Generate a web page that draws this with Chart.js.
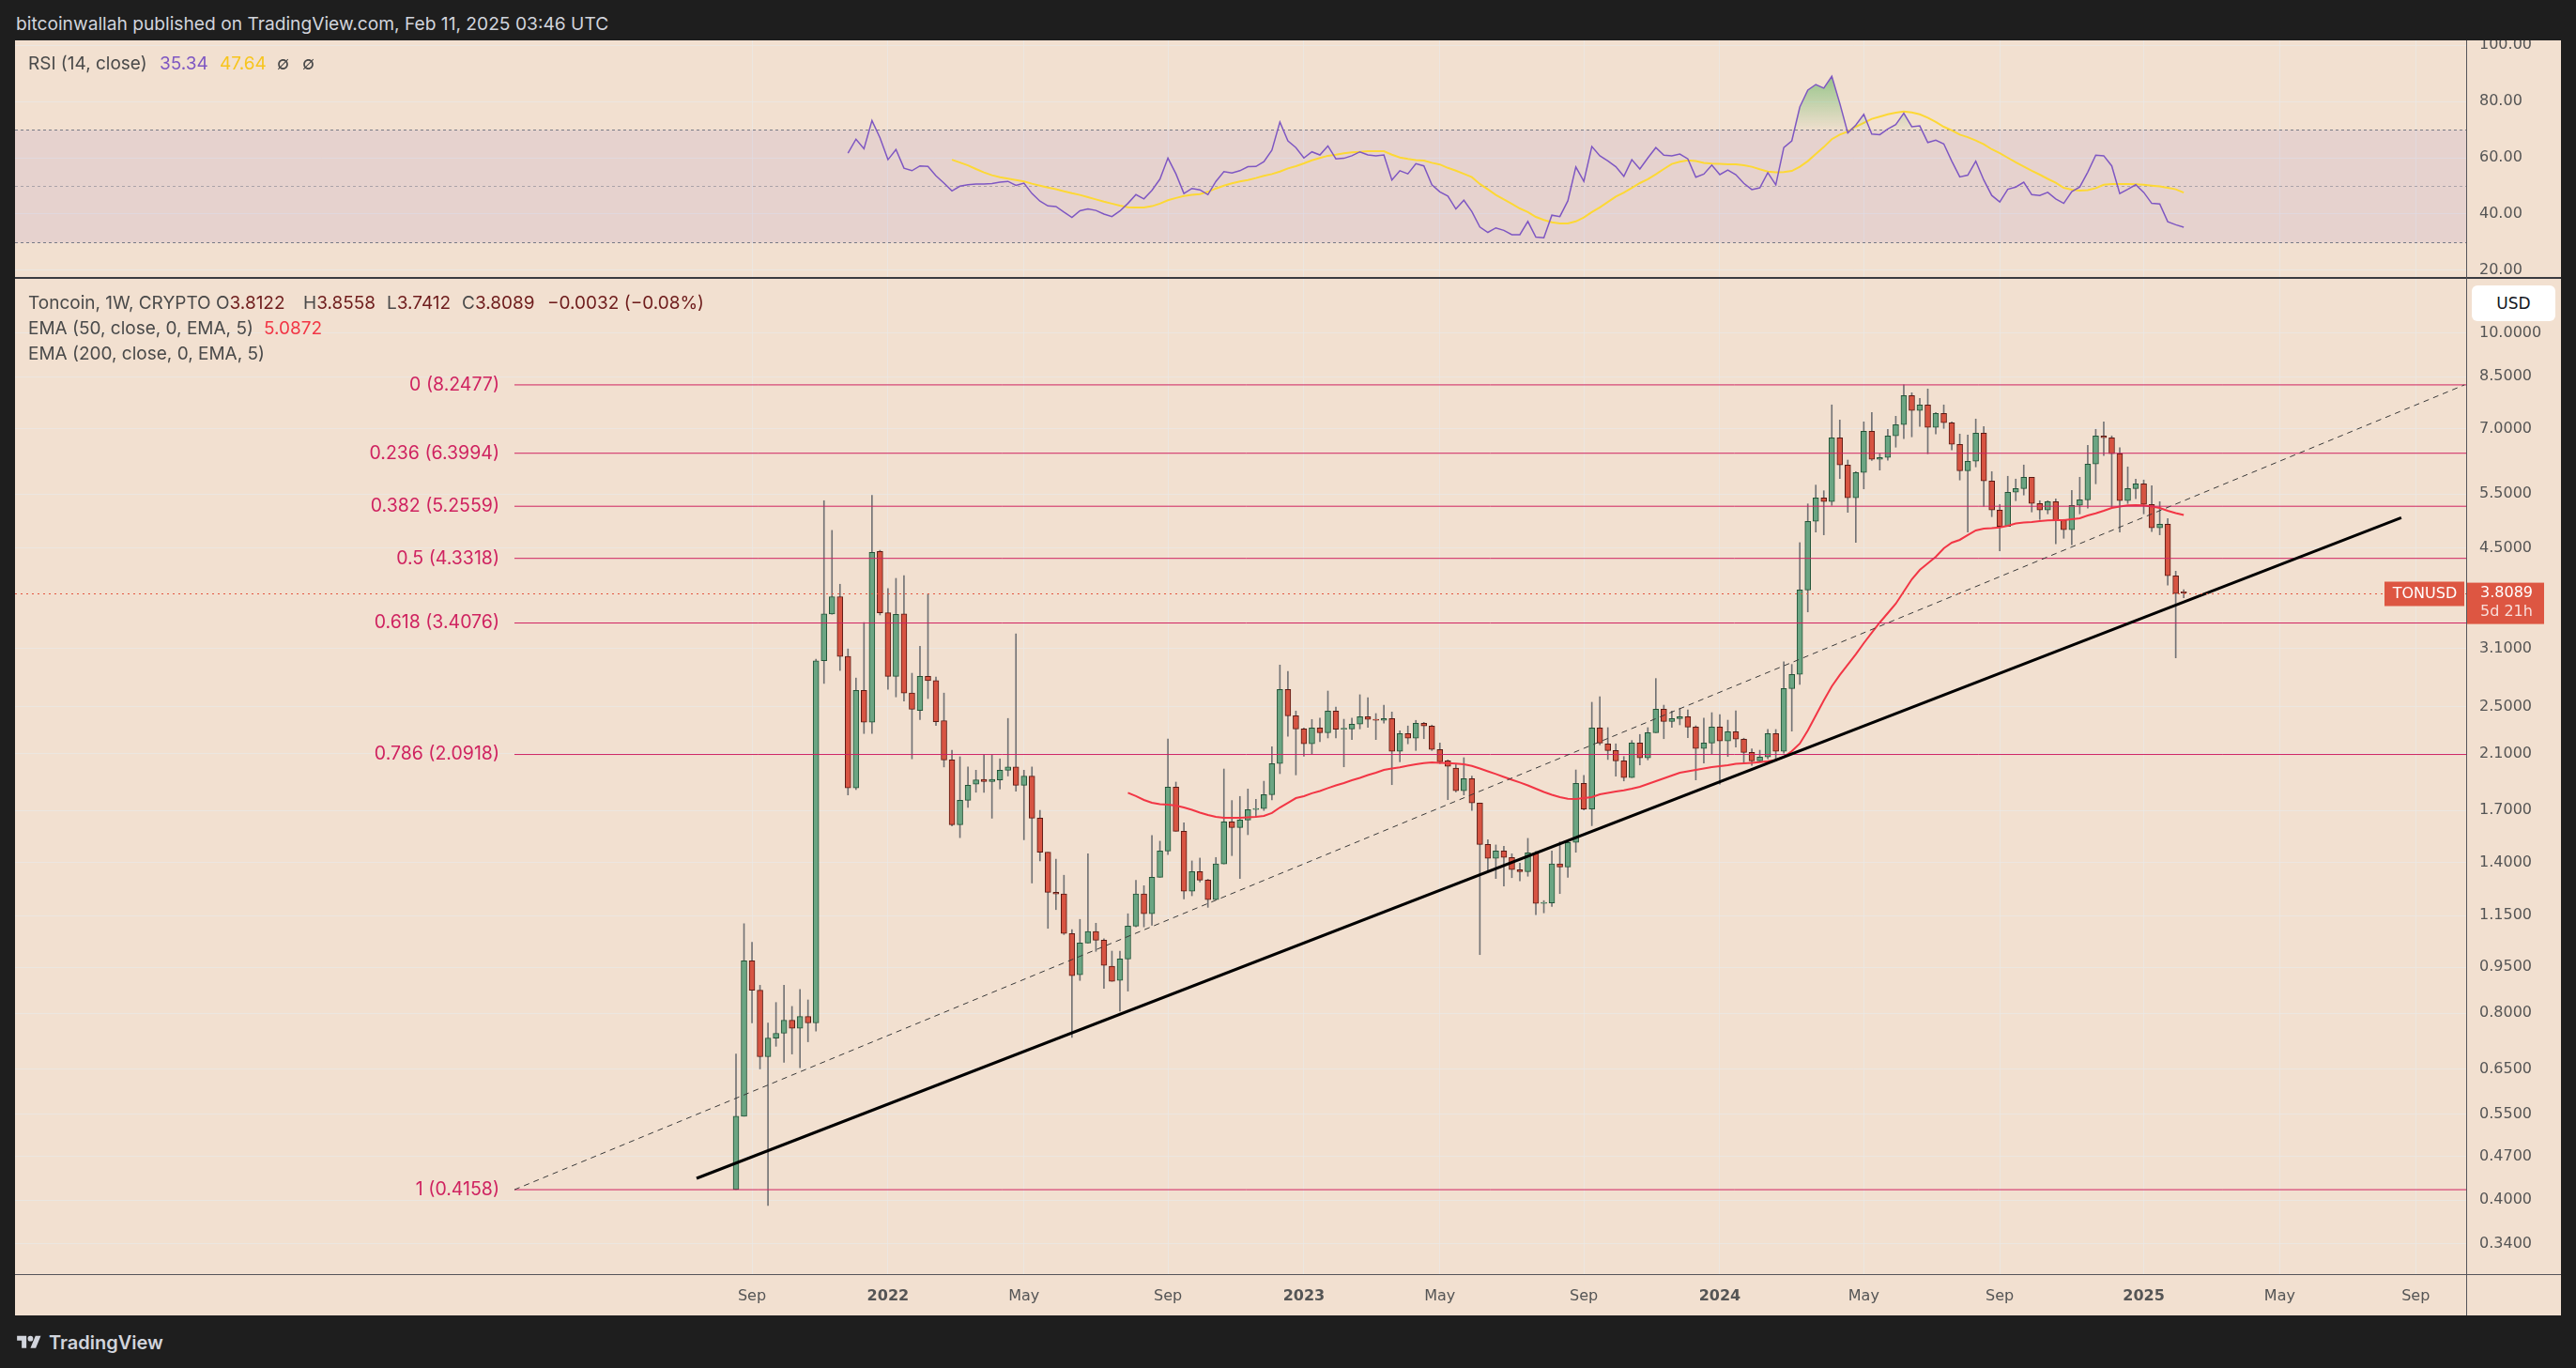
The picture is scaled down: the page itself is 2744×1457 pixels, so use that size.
<!DOCTYPE html>
<html>
<head>
<meta charset="utf-8">
<title>Toncoin 1W</title>
<script src="https://cdn.jsdelivr.net/npm/chart.js@4.4.1/dist/chart.umd.min.js"></script>
<style>
  html, body { margin: 0; padding: 0; }
  body { width: 2744px; height: 1457px; background: #1e1e1e; position: relative; overflow: hidden; font-family: Inter, "Noto Sans", sans-serif; }
  .abs { position: absolute; }
  #frame { left: 16px; top: 43px; width: 2712px; height: 1358px; background: #f2e0d0; }
  #rsiBox { left: 16px; top: 43px; width: 2712px; height: 253px; }
  #mainBox { left: 16px; top: 297px; width: 2712px; height: 1104px; }
  .txt { position: absolute; white-space: nowrap; font-size: 19px; line-height: 24px; color: #4a4a4a; }
  .ln { position: absolute; }
</style>
</head>
<body>
<div class="txt" style="left:17px;top:13px;color:#d1d4dc;font-size:19.2px">bitcoinwallah published on TradingView.com, Feb 11, 2025 03:46 UTC</div>
<div id="frame" class="abs"></div>
<div id="rsiBox" class="abs"><canvas id="rsi" width="2712" height="253"></canvas></div>
<div id="mainBox" class="abs"><canvas id="main" width="2712" height="1104"></canvas></div>

<!-- pane separators -->
<div class="ln" style="left:16px;top:295px;width:2712px;height:2px;background:#3b3b40"></div>
<div class="ln" style="left:2627px;top:43px;width:1px;height:1358px;background:#55555a"></div>
<div class="ln" style="left:16px;top:1357px;width:2712px;height:1px;background:#55555a"></div>

<!-- legends -->
<div class="txt" style="left:30px;top:56px">RSI (14, close)</div>
<div class="txt" style="left:170px;top:56px;color:#7e57c2">35.34</div>
<div class="txt" style="left:234px;top:56px;color:#f7c51e">47.64</div>
<div class="txt" style="left:295px;top:56px">∅</div>
<div class="txt" style="left:322px;top:56px">∅</div>

<div class="txt" style="left:30px;top:311px">Toncoin, 1W, CRYPTO</div>
<div class="txt" style="left:230px;top:311px">O<span style="color:#6e1c1c">3.8122</span></div>
<div class="txt" style="left:323px;top:311px">H<span style="color:#6e1c1c">3.8558</span></div>
<div class="txt" style="left:412px;top:311px">L<span style="color:#6e1c1c">3.7412</span></div>
<div class="txt" style="left:492px;top:311px">C<span style="color:#6e1c1c">3.8089</span></div>
<div class="txt" style="left:583px;top:311px;color:#6e1c1c">−0.0032 (−0.08%)</div>
<div class="txt" style="left:30px;top:338px">EMA (50, close, 0, EMA, 5)</div>
<div class="txt" style="left:281px;top:338px;color:#f23645">5.0872</div>
<div class="txt" style="left:30px;top:365px">EMA (200, close, 0, EMA, 5)</div>

<div class="abs" style="left:2633px;top:304px;width:89px;height:38px;background:#fff;border-radius:6px;font:17px 'DejaVu Sans';line-height:38px;text-align:center;color:#131722">USD</div>

<div class="abs" style="left:17px;top:1420px">
  <svg width="28" height="20" viewBox="0 0 36 28"><path d="M14 22H7V11H0V4h14v18zM28 22h-8l7.5-18h8L28 22z" fill="#d1d4dc"/><circle cx="20" cy="8" r="4" fill="#d1d4dc"/></svg>
</div>
<div class="txt" style="left:52px;top:1418px;color:#d1d4dc;font-size:20px;font-weight:600">TradingView</div>

<script>
/* =============================== */
/* Data (weekly candles, index 0 = week of Aug 23 2021) */
/* =============================== */
const opens = [
  0.416,0.546,0.972,0.872,0.681,0.730,0.743,0.780,0.757,0.791,
  0.772,2.962,3.525,3.758,3.010,1.847,2.653,2.358,4.445,3.539,
  2.795,3.525,2.627,2.464,2.795,2.751,2.372,2.050,1.612,1.764,
  1.873,1.907,1.892,1.903,1.973,1.997,1.866,1.930,1.651,1.455,
  1.254,1.246,1.076,0.923,1.039,1.084,1.050,0.953,0.904,0.979,
  1.106,1.246,1.158,1.326,1.462,1.853,1.573,1.259,1.354,1.312,
  1.220,1.393,1.629,1.595,1.640,1.705,1.711,1.802,2.022,2.663,
  2.415,2.300,2.176,2.308,2.268,2.458,2.297,2.300,2.341,2.407,
  2.382,2.374,2.390,2.116,2.261,2.222,2.349,2.325,2.131,2.043,
  1.988,1.828,1.912,1.747,1.498,1.422,1.462,1.427,1.364,1.354,
  1.452,1.203,1.205,1.393,1.378,1.509,1.879,1.708,2.308,2.176,
  2.123,2.043,1.919,2.183,2.065,2.268,2.475,2.365,2.390,2.407,
  2.316,2.138,2.183,2.316,2.199,2.276,2.214,2.108,2.043,2.072,
  2.261,2.116,2.672,2.816,3.853,4.970,5.422,5.347,6.777,6.126,
  5.422,5.957,6.944,6.255,6.299,6.825,7.116,7.928,7.498,7.657,
  7.043,7.420,7.166,6.614,5.998,6.212,6.896,5.774,5.182,4.877,
  5.537,5.614,5.854,5.310,5.182,5.347,4.987,4.816,5.273,5.384,
  6.147,6.825,6.777,6.387,5.366,5.614,5.713,5.292,4.850,4.918,
  4.060,3.8122
];
const highs = [
  0.688,1.116,1.042,0.888,0.772,0.833,0.888,0.821,0.874,0.841,
  2.979,5.366,4.806,3.935,3.095,2.778,3.414,5.474,4.464,3.872,
  4.022,4.063,2.828,3.126,3.796,2.789,2.627,2.125,2.074,1.997,
  1.973,2.086,2.086,2.058,2.391,3.273,1.973,1.997,1.700,1.455,
  1.418,1.336,1.092,1.134,1.447,1.118,1.055,1.008,1.008,1.158,
  1.311,1.285,1.548,1.516,2.216,1.888,1.623,1.409,1.424,1.316,
  1.427,1.982,1.763,1.790,1.840,1.771,1.894,2.153,2.915,2.848,
  2.458,2.308,2.382,2.393,2.647,2.495,2.384,2.393,2.611,2.583,
  2.435,2.512,2.449,2.284,2.325,2.374,2.357,2.333,2.183,2.050,
  2.022,2.067,1.930,1.747,1.525,1.495,1.488,1.447,1.397,1.532,
  1.460,1.216,1.462,1.512,1.521,1.975,1.935,2.539,2.592,2.311,
  2.176,2.076,2.203,2.253,2.311,2.773,2.512,2.458,2.484,2.469,
  2.327,2.393,2.443,2.426,2.376,2.460,2.222,2.135,2.125,2.295,
  2.295,2.952,2.922,4.592,5.303,5.686,5.568,7.657,7.240,6.240,
  5.978,7.191,7.445,6.387,6.993,7.342,8.248,8.011,7.846,8.124,
  7.445,7.657,7.191,6.872,6.848,7.266,7.067,5.978,5.292,5.875,
  5.814,6.126,5.854,5.366,5.366,5.403,5.005,5.576,5.854,6.591,
  6.993,7.191,6.825,6.534,6.083,5.814,5.794,5.674,5.347,5.022,
  4.131,3.8558
];
const lows = [
  0.416,0.546,0.772,0.651,0.392,0.708,0.667,0.688,0.654,0.720,
  0.749,2.723,3.520,2.857,1.800,1.836,2.261,2.261,3.511,2.664,
  2.590,2.550,2.058,2.381,2.574,2.329,1.997,1.605,1.536,1.719,
  1.818,1.818,1.651,1.840,1.931,1.825,1.524,1.298,1.409,1.097,
  1.176,1.072,0.732,0.904,1.039,1.007,0.878,0.901,0.807,0.869,
  1.103,1.103,1.110,1.326,1.443,1.573,1.224,1.238,1.303,1.186,
  1.220,1.393,1.437,1.320,1.553,1.659,1.699,1.767,1.948,2.237,
  1.939,2.079,2.094,2.193,2.224,2.224,1.998,2.211,2.300,2.313,
  2.211,2.349,1.870,2.036,2.176,2.123,2.218,2.123,2.022,1.769,
  1.820,1.800,1.699,0.995,1.359,1.320,1.284,1.324,1.308,1.331,
  1.154,1.162,1.190,1.248,1.326,1.455,1.702,1.606,2.168,2.053,
  1.930,1.896,1.919,2.012,2.050,2.268,2.218,2.313,2.335,2.226,
  1.903,2.026,2.098,1.873,2.076,2.150,2.029,2.008,2.036,2.058,
  2.043,2.101,2.281,2.713,3.551,4.776,4.727,5.273,5.826,5.139,
  4.597,5.607,6.230,6.011,6.233,6.545,6.754,6.801,7.067,6.387,
  6.872,7.018,6.477,5.794,4.776,6.083,5.255,5.057,4.454,4.877,
  5.366,5.480,5.146,5.005,5.110,4.571,4.667,4.555,5.110,5.218,
  5.713,6.343,5.237,4.776,5.310,5.403,5.110,4.783,4.727,3.921,
  2.994,3.7412
];
const closes = [
  0.546,0.972,0.872,0.681,0.730,0.743,0.780,0.757,0.791,0.772,
  2.962,3.525,3.758,3.010,1.847,2.653,2.358,4.428,3.539,2.795,
  3.518,2.627,2.473,2.795,2.751,2.362,2.050,1.612,1.764,1.866,
  1.903,1.892,1.907,1.973,1.997,1.866,1.930,1.651,1.455,1.254,
  1.246,1.076,0.920,1.039,1.084,1.050,0.956,0.901,0.979,1.106,
  1.246,1.158,1.326,1.462,1.853,1.573,1.259,1.354,1.312,1.220,
  1.393,1.629,1.595,1.640,1.705,1.711,1.802,2.022,2.663,2.415,
  2.300,2.176,2.308,2.268,2.458,2.297,2.300,2.341,2.407,2.382,
  2.374,2.390,2.116,2.261,2.222,2.349,2.325,2.131,2.036,2.001,
  1.828,1.912,1.747,1.498,1.422,1.462,1.427,1.364,1.354,1.452,
  1.203,1.205,1.393,1.378,1.509,1.879,1.708,2.308,2.183,2.123,
  2.043,1.919,2.183,2.065,2.268,2.475,2.365,2.390,2.407,2.316,
  2.138,2.183,2.316,2.199,2.276,2.214,2.108,2.043,2.072,2.261,
  2.116,2.672,2.816,3.853,4.970,5.422,5.347,6.777,6.126,5.422,
  5.957,6.944,6.255,6.299,6.825,7.116,7.928,7.498,7.657,7.043,
  7.420,7.166,6.614,5.998,6.212,6.896,5.774,5.182,4.877,5.537,
  5.614,5.854,5.310,5.182,5.347,4.987,4.816,5.273,5.384,6.147,
  6.825,6.777,6.387,5.366,5.614,5.713,5.292,4.850,4.918,4.060,
  3.800,3.8089
];

// EMA 50 as drawn, starting at week 49
const emaStart = 49;
const emaValues = [
  1.814,1.792,1.767,1.748,1.739,1.736,1.730,1.718,1.703,1.686,
  1.671,1.659,1.654,1.654,1.654,1.657,1.659,1.665,1.683,1.718,
  1.748,1.779,1.792,1.811,1.826,1.846,1.865,1.881,1.901,1.918,
  1.938,1.955,1.975,1.986,1.994,2.007,2.017,2.026,2.031,2.028,
  2.026,2.023,2.017,2.005,1.986,1.965,1.945,1.924,1.904,1.885,
  1.865,1.842,1.820,1.801,1.785,1.775,1.773,1.779,1.785,1.804,
  1.814,1.823,1.831,1.842,1.855,1.875,1.894,1.914,1.934,1.955,
  1.965,1.975,1.986,1.996,2.003,2.010,2.021,2.024,2.028,2.033,
  2.040,2.049,2.074,2.118,2.178,2.287,2.418,2.557,2.694,2.809,
  2.919,3.033,3.162,3.286,3.414,3.535,3.661,3.830,4.008,4.150,
  4.253,4.358,4.497,4.592,4.640,4.722,4.805,4.838,4.846,4.860,
  4.889,4.932,4.949,4.958,4.975,4.987,4.993,4.993,5.010,5.027,
  5.080,5.121,5.169,5.224,5.251,5.273,5.279,5.273,5.251,5.224,
  5.169,5.125,5.0872
];

// RSI (14) from week 14, its MA from week 27
const rsiStart = 14;
const rsiValues = [
  61.6,66.6,63.2,73.2,67.1,59.3,62.9,56.3,55.4,57.1,
  56.9,53.6,51.0,48.2,49.9,50.4,50.7,50.7,50.8,51.3,
  51.6,50.2,51.0,47.3,44.6,42.9,42.7,40.7,38.8,41.2,
  41.8,41.3,40.0,39.1,41.1,43.8,46.9,45.4,48.4,52.4,
  59.9,54.3,47.3,49.1,48.6,46.9,51.6,55.1,54.6,55.4,
  56.8,56.9,58.6,62.7,72.7,66.0,63.6,59.9,62.1,61.0,
  64.2,59.6,59.8,60.7,62.1,61.0,60.7,61.0,52.1,55.4,
  54.3,57.9,57.1,50.4,47.9,46.4,41.8,44.9,40.9,35.4,
  33.5,35.1,34.2,32.7,32.7,37.4,31.8,31.6,39.6,39.1,
  44.7,56.7,51.6,64.0,60.7,58.9,56.8,53.4,59.3,56.0,
  59.9,63.6,60.9,60.7,61.3,59.6,53.1,54.2,57.4,54.0,
  55.6,54.0,50.9,48.7,49.3,54.7,50.4,63.6,66.0,78.0,
  84.0,86.0,84.7,88.9,79.3,68.8,71.6,75.4,68.4,68.2,
  70.2,71.8,75.8,71.0,71.3,65.4,66.2,64.9,58.8,53.2,
  53.8,58.8,52.1,46.6,44.3,48.8,49.6,51.3,46.9,46.6,
  47.7,45.4,43.8,48.0,49.6,54.9,60.9,60.7,57.1,47.3,
  48.8,50.4,47.7,43.8,43.6,37.3,36.2,35.34
];
const rsiMaStart = 27;
const rsiMaValues = [
  59.3,58.3,57.3,56.0,54.8,53.8,53.1,52.6,52.1,51.6,
  50.8,50.1,49.4,48.8,48.1,47.4,46.8,46.0,45.2,44.4,
  43.7,43.0,42.4,42.3,42.3,42.8,43.7,44.9,45.7,46.4,
  46.8,47.1,47.9,49.1,50.1,50.9,51.6,52.1,52.8,53.6,
  54.2,55.1,56.2,57.0,58.0,59.1,59.9,60.7,61.1,61.6,
  61.9,62.1,62.3,62.3,62.3,61.1,60.1,59.6,59.2,59.0,
  58.2,57.6,56.4,55.4,54.3,53.1,50.7,48.8,46.8,45.2,
  43.6,42.0,40.7,39.0,37.9,37.1,36.7,36.7,37.4,38.8,
  40.7,42.4,44.3,46.2,47.6,49.3,51.0,52.4,54.1,56.0,
  57.8,58.6,59.1,58.8,58.2,57.9,57.8,57.7,57.7,57.3,
  56.8,55.9,55.1,54.8,54.9,55.3,56.8,58.8,61.3,63.8,
  66.6,68.2,69.3,71.0,72.4,73.8,74.6,75.4,76.0,76.4,
  76.1,75.4,74.2,72.7,71.0,69.7,68.2,67.3,66.1,64.8,
  63.0,61.6,60.0,58.4,56.9,55.4,54.0,52.5,51.1,49.3,
  48.7,48.3,48.5,49.2,50.4,50.7,50.7,50.7,50.6,50.4,
  50.1,49.8,49.3,48.8,47.64
];
const rsiUpper = 70, rsiMiddle = 50, rsiLower = 30;

// Fibonacci retracement and trend lines (week index, price)
const fibRatios = [0, 0.236, 0.382, 0.5, 0.618, 0.786, 1];
const fibPrices = [8.2477, 6.3994, 5.2559, 4.3318, 3.4076, 2.0918, 0.4158];
const fibFrom = { x: -27.7, y: 0.4158 };
const fibTo = { x: 216.1, y: 8.2477 };
const trendFrom = { x: -4.93, y: 0.4337 };
const trendTo = { x: 208.2, y: 5.036 };

// axis ticks
const timeTickIdx = [2, 19, 36, 54, 71, 88, 106, 123, 141, 158, 176, 193, 210];
const timeTickLbl = ['Sep', '2022', 'May', 'Sep', '2023', 'May', 'Sep', '2024', 'May', 'Sep', '2025', 'May', 'Sep'];
const priceTicks = [0.34, 0.40, 0.47, 0.55, 0.65, 0.80, 0.95, 1.15, 1.40, 1.70, 2.10, 2.50, 3.10, 4.50, 5.50, 7.00, 8.50, 10.00];
const rsiTicks = [20, 40, 60, 80, 100];

/* =============================== */
/* View window */
/* =============================== */
const viewFrom = -90.14, viewTo = 216.31;
const priceFloor = 0.30392, priceCeil = 12.226;
const rsiFloor = 17.333, rsiCeil = 101.667;

const gridColor = 'rgba(234,232,230,0.75)';
const axisText = '#555555';
const fibColor = '#cf2360';
const upBody = '#6ba583', downBody = '#d75442';
const upLine = '#225437', downLine = '#5b1a13';
const lastClose = closes[closes.length - 1];

Chart.defaults.font.family = 'DejaVu Sans';
Chart.defaults.animation = false;

function timeAxis(showLabels) {
  return {
    type: 'linear', min: viewFrom, max: viewTo, offset: false, bounds: 'data',
    afterBuildTicks: s => { s.ticks = timeTickIdx.map(v => ({ value: v })); s.min = viewFrom; s.max = viewTo; },
    afterFit: s => { s.height = showLabels ? 44 : 0; s.paddingLeft = 0; s.paddingRight = 0; },
    grid: { color: gridColor, drawTicks: false, offset: false },
    border: { display: false },
    ticks: {
      display: showLabels, autoSkip: false, maxRotation: 0, padding: 14, color: axisText,
      font: c => ({ family: 'DejaVu Sans', size: 16, weight: /^\d{4}$/.test(timeTickLbl[c.index]) ? 'bold' : 'normal' }),
      callback: (v, i) => timeTickLbl[i]
    }
  };
}

/* =============================== */
/* RSI pane */
/* =============================== */
const rsiBands = {
  id: 'rsiBands',
  beforeDatasetsDraw(chart) {
    const { ctx, chartArea: a, scales: { y } } = chart;
    const top = Math.round(y.getPixelForValue(rsiUpper)) + 0.5;
    const bot = Math.round(y.getPixelForValue(rsiLower)) + 0.5;
    const mid = Math.round(y.getPixelForValue(rsiMiddle)) + 0.5;
    ctx.save();
    ctx.fillStyle = 'rgba(126,87,194,0.1)';
    ctx.fillRect(a.left, top, a.right - a.left, bot - top);
    ctx.lineWidth = 1;
    ctx.setLineDash([3, 3]);
    ctx.strokeStyle = '#787b86';
    [top, bot].forEach(py => { ctx.beginPath(); ctx.moveTo(a.left, py); ctx.lineTo(a.right, py); ctx.stroke(); });
    ctx.strokeStyle = 'rgba(120,123,134,0.55)';
    ctx.beginPath(); ctx.moveTo(a.left, mid); ctx.lineTo(a.right, mid); ctx.stroke();
    ctx.restore();
  }
};

new Chart(document.getElementById('rsi'), {
  type: 'line',
  data: {
    datasets: [{
      data: rsiValues.map((v, k) => ({ x: rsiStart + k, y: v })),
      borderColor: '#7e57c2', borderWidth: 1.5, pointRadius: 0,
      fill: { target: { value: rsiUpper }, below: 'rgba(0,0,0,0)' },
      backgroundColor: c => {
        const chart = c.chart;
        if (!chart.chartArea || !chart.scales.y) return 'rgba(0,0,0,0)';
        const ys = chart.scales.y;
        const g = chart.ctx.createLinearGradient(0, ys.getPixelForValue(100), 0, ys.getPixelForValue(rsiUpper));
        g.addColorStop(0, 'rgba(76,175,80,0.85)');
        g.addColorStop(1, 'rgba(76,175,80,0.02)');
        return g;
      },
      order: 1
    }, {
      data: rsiMaValues.map((v, k) => ({ x: rsiMaStart + k, y: v })),
      borderColor: '#fdd835', borderWidth: 2, pointRadius: 0, fill: false,
      order: 2
    }]
  },
  options: {
    responsive: false,
    layout: { padding: 0 },
    plugins: { legend: { display: false }, tooltip: { enabled: false } },
    scales: {
      x: timeAxis(false),
      y: {
        type: 'linear', position: 'right', min: rsiFloor, max: rsiCeil, bounds: 'data',
        afterBuildTicks: s => { s.ticks = rsiTicks.map(v => ({ value: v })); s.min = rsiFloor; s.max = rsiCeil; },
        afterFit: s => { s.width = 101; s.paddingTop = 0; s.paddingBottom = 0; },
        grid: { color: gridColor, drawTicks: false },
        border: { display: false },
        ticks: { padding: 14, color: axisText, font: { size: 16 }, callback: v => Number(v).toFixed(2) }
      }
    }
  },
  plugins: [rsiBands]
});

/* =============================== */
/* Price pane */
/* =============================== */
const weeks = closes.map((c, i) => i);
const isUp = i => closes[i] >= opens[i];
const wickData = weeks.map(i => ({ x: i, y: [lows[i], highs[i]] }));
const bodyData = weeks.map(i => {
  const lo = Math.min(opens[i], closes[i]);
  const hi = Math.max(opens[i], closes[i]);
  return { x: i, y: [lo, Math.max(hi, lo * 1.004)] };
});

const fibSets = fibPrices.map(p => ({
  type: 'line',
  data: [{ x: fibFrom.x, y: p }, { x: viewTo, y: p }],
  borderColor: fibColor, borderWidth: 1, pointRadius: 0, order: 3
}));

const overlays = {
  id: 'overlays',
  afterDatasetsDraw(chart) {
    const { ctx, chartArea: a, scales: { x, y } } = chart;
    ctx.save();
    // fib labels
    ctx.font = '19.5px Inter';
    ctx.fillStyle = fibColor;
    ctx.textAlign = 'right';
    ctx.textBaseline = 'middle';
    const lx = x.getPixelForValue(fibFrom.x) - 16;
    fibRatios.forEach((r, k) => ctx.fillText(r + ' (' + fibPrices[k].toFixed(4) + ')', lx, y.getPixelForValue(fibPrices[k])));
    // last price line + symbol tag
    const py = Math.round(y.getPixelForValue(lastClose)) + 0.5;
    ctx.strokeStyle = '#e4553f';
    ctx.lineWidth = 1;
    ctx.setLineDash([2, 4]);
    ctx.beginPath(); ctx.moveTo(a.left, py); ctx.lineTo(a.right, py); ctx.stroke();
    ctx.setLineDash([]);
    ctx.fillStyle = '#dd5642';
    ctx.fillRect(a.right - 87, py - 13, 85, 26);
    ctx.fillStyle = '#ffffff';
    ctx.textAlign = 'center';
    ctx.font = '16px DejaVu Sans';
    ctx.fillText('TONUSD', a.right - 44, py);
    ctx.restore();
  },
  afterDraw(chart) {
    const { ctx, chartArea: a, scales: { y } } = chart;
    const py = y.getPixelForValue(lastClose);
    ctx.save();
    ctx.fillStyle = '#dd5642';
    ctx.fillRect(a.right, py - 11, 83, 44);
    ctx.font = '16px DejaVu Sans';
    ctx.textBaseline = 'middle';
    ctx.textAlign = 'left';
    ctx.fillStyle = '#ffffff';
    ctx.fillText(lastClose.toFixed(4), a.right + 15, py);
    ctx.fillStyle = 'rgba(255,255,255,0.8)';
    ctx.fillText('5d 21h', a.right + 15, py + 20);
    ctx.restore();
  }
};

new Chart(document.getElementById('main'), {
  type: 'bar',
  data: {
    datasets: [{
      type: 'bar', data: wickData, backgroundColor: '#737375',
      barThickness: 1, grouped: false, order: 6
    }, {
      type: 'bar', data: bodyData,
      backgroundColor: c => isUp(c.dataIndex) ? upBody : downBody,
      borderColor: c => isUp(c.dataIndex) ? upLine : downLine,
      borderWidth: 1, borderSkipped: false, barThickness: 6, grouped: false, order: 5
    }, {
      type: 'line',
      data: emaValues.map((v, k) => ({ x: emaStart + k, y: v })),
      borderColor: '#f23645', borderWidth: 2, pointRadius: 0, order: 4
    },
    ...fibSets,
    {
      type: 'line', data: [fibFrom, fibTo],
      borderColor: '#3a3a3a', borderWidth: 1, borderDash: [6, 5], pointRadius: 0, order: 2
    }, {
      type: 'line', data: [trendFrom, trendTo],
      borderColor: '#000000', borderWidth: 3, pointRadius: 0, order: 1
    }]
  },
  options: {
    responsive: false,
    layout: { padding: 0 },
    plugins: { legend: { display: false }, tooltip: { enabled: false } },
    scales: {
      x: timeAxis(true),
      y: {
        type: 'logarithmic', position: 'right', min: priceFloor, max: priceCeil, bounds: 'data',
        afterBuildTicks: s => { s.ticks = priceTicks.map(v => ({ value: v })); s.min = priceFloor; s.max = priceCeil; },
        afterFit: s => { s.width = 101; s.paddingTop = 0; s.paddingBottom = 0; },
        grid: { color: gridColor, drawTicks: false },
        border: { display: false },
        ticks: { autoSkip: false, padding: 14, color: axisText, font: { size: 16 }, callback: v => Number(v).toFixed(4) }
      }
    }
  },
  plugins: [overlays]
});
</script>
</body>
</html>
